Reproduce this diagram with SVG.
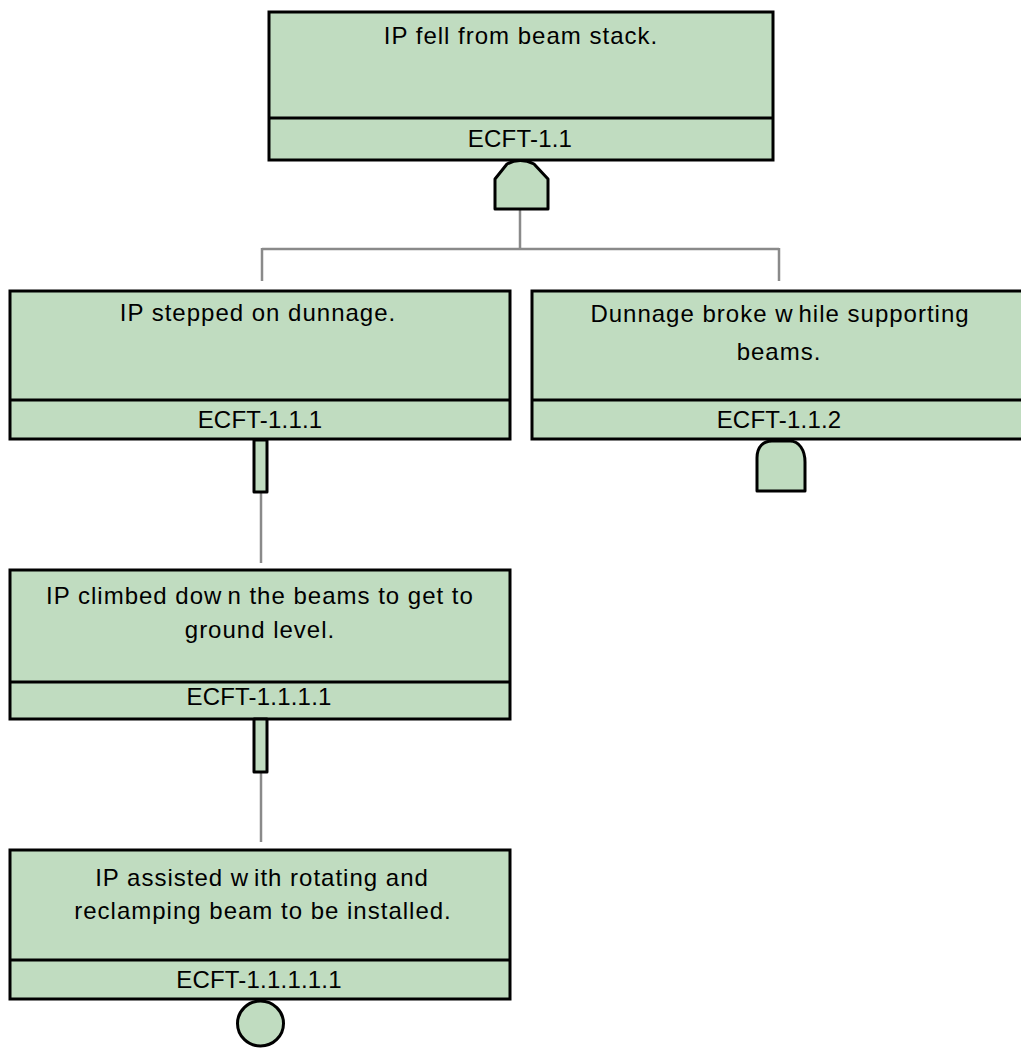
<svg xmlns="http://www.w3.org/2000/svg" width="1021" height="1051" viewBox="0 0 1021 1051">
  <style>
    .box { fill: #c0dcc0; stroke: #000; stroke-width: 3; }
    .div { stroke: #000; stroke-width: 3; }
    .gate { fill: #c0dcc0; stroke: #000; stroke-width: 3; stroke-linejoin: round; }
    .conn { fill: none; stroke: #8a8a8a; stroke-width: 2.5; }
    .title { font-family: "Liberation Sans", Arial, sans-serif; font-size: 24px; letter-spacing: 1px; fill: #000; text-anchor: middle; }
    .id { font-family: "Liberation Sans", Arial, sans-serif; font-size: 24px; letter-spacing: 0.2px; fill: #000; text-anchor: middle; }
  </style>

  <!-- connectors -->
  <g id="connectors">
    <path class="conn" d="M520,209 V249 M262,249 H779 M262,248 V281 M779,248 V281"/>
    <path class="conn" d="M261,492 V563"/>
    <path class="conn" d="M261,772 V842"/>
  </g>

  <!-- top event -->
  <g id="ecft-1.1">
    <rect class="box" x="269" y="12" width="504" height="148"/>
    <line class="div" x1="269" y1="118" x2="773" y2="118"/>
    <text class="title" x="521" y="44">IP fell from beam stack.</text>
    <text class="id" x="520" y="147">ECFT-1.1</text>
  </g>
  <g id="gate-1.1">
    <path class="gate" d="M495,209 V179 L507,164 Q520,157 534,164 L548,179 V209 Z"/>
  </g>

  <!-- second level -->
  <g id="ecft-1.1.1">
    <rect class="box" x="10" y="291" width="500" height="148"/>
    <line class="div" x1="10" y1="400" x2="510" y2="400"/>
    <text class="title" x="258" y="321">IP stepped on dunnage.</text>
    <text class="id" x="260" y="428">ECFT-1.1.1</text>
  </g>
  <g id="transfer-1.1.1">
    <rect class="gate" x="254" y="440" width="13" height="52"/>
  </g>

  <g id="ecft-1.1.2">
    <rect class="box" x="532" y="291" width="500" height="148"/>
    <line class="div" x1="532" y1="400" x2="1032" y2="400"/>
    <text class="title" x="780" y="322">Dunnage broke w<tspan dx="5">hile supporting</tspan></text>
    <text class="title" x="779" y="360">beams.</text>
    <text class="id" x="779" y="428">ECFT-1.1.2</text>
  </g>
  <g id="gate-1.1.2">
    <path class="gate" d="M757,491 V458 C757,446 764,441 772,441 H790 C799,441 805,450 805,462 V491 Z"/>
  </g>

  <!-- third level -->
  <g id="ecft-1.1.1.1">
    <rect class="box" x="10" y="570" width="500" height="149"/>
    <line class="div" x1="10" y1="682" x2="510" y2="682"/>
    <text class="title" x="260" y="604">IP climbed dow<tspan dx="5">n the beams to get to</tspan></text>
    <text class="title" x="260" y="638">ground level.</text>
    <text class="id" x="259" y="705">ECFT-1.1.1.1</text>
  </g>
  <g id="transfer-1.1.1.1">
    <rect class="gate" x="254" y="719" width="13" height="53"/>
  </g>

  <!-- fourth level -->
  <g id="ecft-1.1.1.1.1">
    <rect class="box" x="10" y="850" width="500" height="149"/>
    <line class="div" x1="10" y1="960" x2="510" y2="960"/>
    <text class="title" x="262" y="886">IP assisted w<tspan dx="5">ith rotating and</tspan></text>
    <text class="title" x="263" y="919">reclamping beam to be installed.</text>
    <text class="id" x="259" y="988">ECFT-1.1.1.1.1</text>
  </g>
  <g id="basic-1.1.1.1.1">
    <ellipse class="gate" cx="260.5" cy="1023.5" rx="23" ry="22.5"/>
  </g>
</svg>
